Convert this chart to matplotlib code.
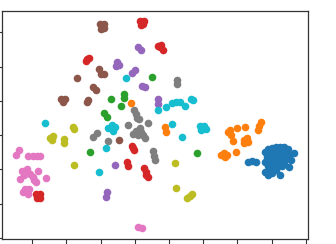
import matplotlib
matplotlib.use("Agg")
import matplotlib.pyplot as plt

# t-SNE style embedding, one array pair per class (digit 0..9)
x0 = [23.1, 24.3, 25.4, 28.1, 28.9, 30.1, 31.3, 32.5, 33.6, 34.8, 36.5,
      29.5, 31.0, 32.5, 33.9, 35.1, 28.7, 30.1, 31.6, 33.0, 34.2, 35.7,
      28.1, 29.5, 31.0, 32.2, 33.6, 35.1, 28.9, 30.4, 31.6, 33.0,
      28.1, 28.9, 30.1, 29.5, 32.5, 31.3]
y0 = [-7.9, -7.6, -7.9, -5.0, -4.1, -3.8, -3.5, -3.5, -3.5, -4.1, -5.2,
      -5.2, -5.0, -4.7, -5.0, -5.8, -6.4, -6.4, -6.1, -6.1, -7.0, -7.3,
      -7.9, -7.9, -7.3, -7.6, -8.2, -9.3, -9.0, -8.7, -9.3, -9.0,
      -10.8, -11.7, -11.1, -10.2, -11.7, -10.2]

x1 = [-11.1, -1.2, -0.9, 17.3, 18.1, 17.8, 19.9, 22.2, 18.7, 21.9, 22.8,
      23.1, 21.9, 26.0, 26.3, 26.9, 15.2, 16.4, 16.1, 17.0, 19.6]
y1 = [9.3, 2.3, 0.9, 0.9, 0.0, 1.5, 2.0, 2.3, -1.7, -1.5, -0.9,
      -2.0, -2.3, 1.5, 2.6, 3.8, -5.8, -6.4, -5.2, -5.8, -5.0]

x2 = [-5.0, -17.0, -13.2, -13.2, -14.0, -19.0, -18.1, -23.1, 8.2]
y2 = [16.9, 10.5, 12.0, 10.8, 8.5, 6.4, 5.2, -5.0, -5.2]

x3 = [-8.5, -7.3, -8.2, -7.6, -3.2, -2.3, -1.8, -2.6, -24.3, -23.4, -24.0,
      -10.8, -10.2, -10.5, -12.3, -12.0, -7.3, -6.7, -6.1, -6.7,
      -38.9, -37.7, -38.6, -37.7]
y3 = [33.2, 33.2, 32.1, 32.4, 25.9, 26.2, 24.8, 25.7, 21.6, 22.4, 22.2,
      -3.2, -4.4, -3.8, -7.9, -9.0, -9.6, -10.8, -12.2, -11.7,
      -17.2, -17.2, -18.4, -18.4]

x4 = [-15.2, -14.6, -15.5, -9.1, -8.2, -10.8, -9.9, -7.9, -7.0,
      -3.2, -3.2, -15.8, -18.4, -18.1]
y4 = [21.3, 20.4, 20.1, 25.7, 24.8, 18.1, 19.0, 14.3, 14.0,
      10.5, 9.0, -8.7, -18.1, -16.6]

x5 = [-20.2, -19.0, -19.9, -19.0, -26.9, -20.5, -19.9, -19.0, -22.2, -21.3,
      -31.6, -30.4, -31.0, -23.7, -24.0, -14.6]
y5 = [32.4, 32.4, 30.9, 31.2, 16.6, 19.2, 17.8, 17.8, 14.0, 13.1,
      10.5, 10.5, 9.6, 10.2, 9.6, -1.5]

x6 = [-43.9, -44.7, -41.2, -39.8, -38.6, -37.7, -43.0, -41.5, -43.6, -40.6,
      -39.8, -38.3, -38.9, -36.0, -42.1, -42.7, -41.2, -40.9, -42.4, -39.5,
      -9.1, -7.9]
y6 = [-4.4, -5.8, -6.1, -6.1, -6.1, -6.1, -10.5, -9.9, -12.8, -11.4,
      -12.2, -10.5, -13.7, -12.5, -15.7, -16.6, -17.2, -15.7, -11.7, -13.1,
      -26.8, -27.1]

x7 = [-10.2, -9.6, -9.4, -8.8, -12.0, -6.1, 2.3, 2.3, -22.2, -21.1, -17.8,
      -10.5, -9.6, -8.2, -7.6, -7.0, -9.1, -8.5, -4.7, -4.4, -4.1]
y7 = [7.3, 6.1, 5.0, 4.7, 2.9, 3.5, 16.0, 14.9, -0.6, 0.6, -1.7,
      0.3, 1.2, 0.9, 0.0, -0.9, 0.0, 2.0, -4.7, -6.1, -7.3]

x8 = [-34.8, -33.9, -34.2, -30.7, -30.7, -28.1, -27.8, -27.8, 1.8, 2.0,
      5.3, 6.1, 6.7]
y8 = [-0.9, -0.3, -1.5, -1.2, -2.3, 2.3, 1.7, -8.7, -8.2, -15.5,
      -18.4, -17.8, -17.2]

x9 = [-12.6, -36.3, -3.2, -0.9, 0.9, 2.0, 3.2, 4.7, 6.4, 7.0,
      -17.8, -16.7, -15.8, -16.4, -18.4, -20.5, 0.9, 3.8,
      9.1, 10.2, 10.8, 9.4]
y9 = [16.6, 3.5, 7.3, 8.2, 9.3, 9.6, 9.6, 8.5, 10.5, 10.2,
      2.0, 2.9, 2.3, 1.2, -3.8, -10.8, 3.2, -0.6,
      2.6, 2.6, 1.7, 1.5]

classes = [(x0, y0), (x1, y1), (x2, y2), (x3, y3), (x4, y4),
           (x5, y5), (x6, y6), (x7, y7), (x8, y8), (x9, y9)]
colors = ["tab:blue", "tab:orange", "tab:green", "tab:red", "tab:purple",
          "tab:brown", "tab:pink", "tab:gray", "tab:olive", "tab:cyan"]

xticks = [-40, -30, -20, -10, 0, 10, 20, 30, 40]
yticks = [-30, -20, -10, 0, 10, 20, 30]

fig = plt.figure(figsize=(3.36, 2.44), dpi=100)
ax = fig.add_axes([2 / 336, 5 / 244, 306 / 336, 228 / 244])
for (xs, ys), c in zip(classes, colors):
    ax.scatter(xs, ys, s=30, c=c, linewidths=0)
ax.set_xlim(-48.8, 40.6)
ax.set_ylim(-30.3, 36.2)
ax.set_xticks(xticks)
ax.set_yticks(yticks)
ax.set_xticklabels([])
ax.set_yticklabels([])
for sp in ax.spines.values():
    sp.set_color("#333333")
    sp.set_linewidth(0.9)
ax.tick_params(length=3.5, width=0.8, color="#333333")
fig.savefig("out.png", dpi=100)
